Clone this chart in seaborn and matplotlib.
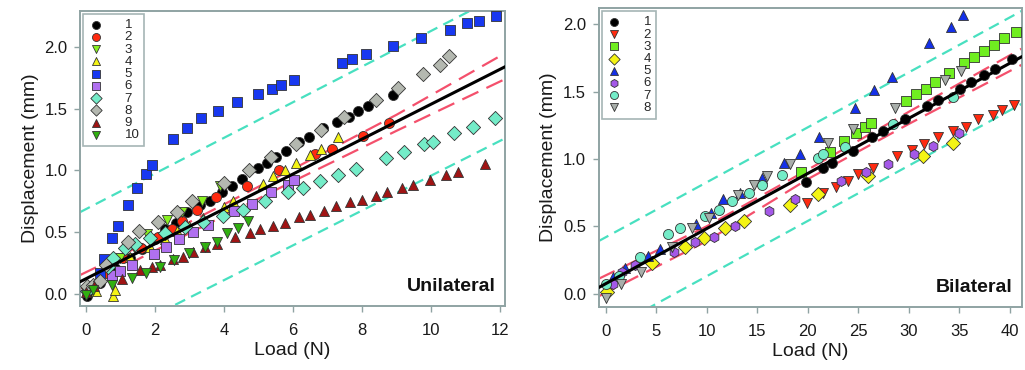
import numpy as np
import pandas as pd
import matplotlib
matplotlib.use("Agg")
import matplotlib.pyplot as plt
import seaborn as sns

# ---- Unilateral (left panel) data ----
uni_x = {
    "1": [0.03, 0.41, 0.84, 1.28, 1.62, 1.99, 2.29, 2.61, 2.93, 3.30, 3.59, 3.94, 4.23, 4.52, 4.99, 5.25,
          5.51, 5.80, 6.17, 6.46, 6.87, 7.28, 7.62, 7.88, 8.17, 8.90],
    "2": [0.2, 0.6, 1.07, 1.6, 2.09, 2.5, 2.78, 3.22, 3.77, 4.67, 5.59, 6.64, 7.13, 8.03, 8.78],
    "3": [0.0, 0.3, 0.78, 0.99, 1.4, 1.77, 2.35, 2.8, 3.36, 3.88],
    "4": [0.3, 0.78, 0.85, 1.28, 1.86, 2.3, 2.64, 3.0, 3.39, 4.0, 4.26, 5.13, 5.42, 5.77, 6.09, 6.49, 6.81, 7.3],
    "5": [0.41, 0.52, 0.75, 0.93, 1.22, 1.48, 1.74, 1.91, 2.52, 2.93, 3.33, 3.83, 4.38, 4.99, 5.39, 5.65,
          6.03, 7.42, 7.71, 8.12, 8.90, 9.71, 10.55, 11.04, 11.39, 11.88],
    "6": [0.75, 0.99, 1.33, 1.97, 2.32, 2.7, 3.1, 3.54, 4.29, 4.81, 5.36, 5.86, 6.03],
    "7": [0.03, 0.64, 0.78, 1.13, 1.42, 1.86, 2.3, 2.87, 3.39, 3.97, 4.55, 5.19, 5.86, 6.29, 6.78, 7.3,
          7.83, 8.70, 9.22, 9.80, 10.06, 10.67, 11.22, 11.86],
    "8": [0.03, 0.2, 0.41, 0.58, 1.22, 1.54, 2.09, 2.64, 3.07, 4.0, 4.72, 5.36, 6.09, 6.81, 7.48, 8.41,
          9.04, 9.77, 10.26, 10.52],
    "9": [0.0, 0.23, 1.04, 1.57, 1.91, 2.14, 2.52, 2.81, 3.10, 3.45, 3.80, 4.32, 4.75, 5.04, 5.42, 5.77,
          6.17, 6.49, 6.90, 7.25, 7.65, 8.00, 8.41, 8.72, 9.16, 9.48, 9.97, 10.43, 10.78, 11.57],
    "10": [0.0, 0.2, 0.75, 1.35, 1.75, 2.15, 2.55, 3.0, 3.45, 3.8, 4.1, 4.4, 4.7],
}
uni_y = {
    "1": [-0.02, 0.09, 0.21, 0.29, 0.36, 0.44, 0.52, 0.57, 0.66, 0.72, 0.75, 0.82, 0.87, 0.93, 1.02, 1.06,
          1.11, 1.16, 1.23, 1.27, 1.34, 1.39, 1.43, 1.48, 1.52, 1.61],
    "2": [0.05, 0.17, 0.29, 0.37, 0.46, 0.52, 0.59, 0.68, 0.78, 0.87, 1.00, 1.13, 1.17, 1.28, 1.38],
    "3": [0.01, 0.05, 0.25, 0.29, 0.38, 0.48, 0.60, 0.66, 0.75, 0.87],
    "4": [0.02, -0.02, 0.03, 0.30, 0.38, 0.44, 0.51, 0.55, 0.61, 0.70, 0.75, 0.89, 0.95, 1.0, 1.06, 1.12, 1.17, 1.27],
    "5": [0.17, 0.28, 0.45, 0.55, 0.72, 0.86, 0.97, 1.04, 1.25, 1.34, 1.42, 1.48, 1.55, 1.62, 1.66, 1.69,
          1.73, 1.87, 1.90, 1.94, 2.01, 2.07, 2.14, 2.19, 2.21, 2.25],
    "6": [0.15, 0.18, 0.23, 0.32, 0.38, 0.44, 0.50, 0.56, 0.67, 0.73, 0.82, 0.88, 0.92],
    "7": [0.02, 0.22, 0.29, 0.37, 0.40, 0.45, 0.49, 0.54, 0.58, 0.63, 0.68, 0.75, 0.82, 0.86, 0.91, 0.96,
          1.01, 1.10, 1.15, 1.21, 1.23, 1.30, 1.35, 1.42],
    "8": [0.06, 0.07, 0.10, 0.23, 0.42, 0.51, 0.58, 0.66, 0.75, 0.90, 1.00, 1.11, 1.21, 1.33, 1.43, 1.57,
          1.67, 1.78, 1.85, 1.93],
    "9": [0.01, 0.06, 0.12, 0.19, 0.22, 0.23, 0.28, 0.30, 0.34, 0.38, 0.40, 0.46, 0.49, 0.52, 0.55, 0.57,
          0.62, 0.64, 0.67, 0.71, 0.74, 0.76, 0.79, 0.82, 0.86, 0.88, 0.92, 0.96, 0.99, 1.05],
    "10": [-0.01, 0.03, 0.07, 0.13, 0.17, 0.22, 0.27, 0.33, 0.38, 0.42, 0.49, 0.53, 0.59],
}
uni_markers = {"1": "o", "2": "o", "3": "v", "4": "^", "5": "s", "6": "s", "7": "D", "8": "D", "9": "^", "10": "v"}
uni_colors = {"1": "#000000", "2": "#ff2a10", "3": "#88f020", "4": "#f4f414", "5": "#1838f0",
              "6": "#b070f0", "7": "#74ecc8", "8": "#b4b8b0", "9": "#a01414", "10": "#30b010"}

# fit line, confidence band and prediction band (left)
uni_line_x = [-0.17, 12.15]
uni_fit = [0.096, 1.84]
uni_band_x = [-0.17, 3.0, 6.0, 9.0, 12.15]
uni_ci_upper = [0.15, 0.58, 1.01, 1.45, 1.95]
uni_ci_lower = [0.04, 0.49, 0.91, 1.32, 1.74]
uni_pi_upper = [0.66, 2.44]
uni_pi_lower = [-0.48, 1.26]

# ---- Bilateral (right panel) data ----
bi_x = {
    "1": [19.8, 21.5, 22.4, 24.5, 26.4, 27.4, 29.6, 31.8, 32.9, 35.1, 36.2, 37.4, 38.5, 40.2],
    "2": [19.9, 21.5, 22.8, 24.0, 25.0, 26.5, 28.8, 30.3, 31.5, 32.9, 34.4, 35.7, 36.9, 38.3, 39.2, 40.4],
    "3": [19.3, 22.2, 23.6, 24.8, 25.7, 26.3, 29.7, 30.7, 31.7, 32.6, 34.0, 35.5, 36.5, 37.4, 38.4, 39.4, 40.6],
    "4": [0.1, 4.6, 7.9, 9.7, 11.8, 13.7, 18.2, 21.0, 26.0, 31.4, 34.4],
    "5": [0.7, 1.9, 4.2, 5.4, 8.9, 10.4, 11.6, 13.3, 15.5, 17.7, 19.2, 21.1, 24.7, 26.6, 28.3, 32.0, 34.2, 35.4],
    "6": [0.7, 1.6, 2.9, 6.8, 8.8, 10.7, 12.8, 16.2, 18.7, 23.3, 25.8, 27.9, 30.5, 32.4, 35.0],
    "7": [0.0, 1.3, 3.4, 6.2, 7.4, 9.8, 11.2, 12.5, 14.2, 15.5, 17.5, 21.0, 21.5, 23.7, 28.4, 34.4],
    "8": [0.0, 1.5, 3.5, 6.6, 8.5, 10.2, 13.1, 14.7, 16.0, 18.2, 22.0, 24.5, 28.6, 33.6, 35.2],
}
bi_y = {
    "1": [0.83, 0.93, 0.97, 1.06, 1.16, 1.21, 1.30, 1.39, 1.44, 1.52, 1.57, 1.62, 1.67, 1.74],
    "2": [0.67, 0.75, 0.79, 0.84, 0.89, 0.93, 1.02, 1.07, 1.11, 1.16, 1.21, 1.24, 1.30, 1.33, 1.36, 1.40],
    "3": [0.90, 1.05, 1.13, 1.19, 1.24, 1.27, 1.43, 1.48, 1.52, 1.57, 1.64, 1.71, 1.76, 1.80, 1.85, 1.90, 1.94],
    "4": [0.01, 0.23, 0.35, 0.41, 0.49, 0.54, 0.66, 0.74, 0.87, 1.02, 1.12],
    "5": [0.12, 0.19, 0.28, 0.33, 0.52, 0.60, 0.70, 0.75, 0.86, 0.97, 1.04, 1.16, 1.38, 1.51, 1.61, 1.86, 1.98, 2.07],
    "6": [0.07, 0.16, 0.21, 0.31, 0.38, 0.42, 0.50, 0.61, 0.70, 0.84, 0.90, 0.96, 1.04, 1.10, 1.19],
    "7": [0.07, 0.13, 0.27, 0.44, 0.49, 0.58, 0.62, 0.69, 0.75, 0.81, 0.88, 1.01, 1.04, 1.09, 1.26, 1.46],
    "8": [-0.03, 0.07, 0.16, 0.35, 0.49, 0.56, 0.73, 0.81, 0.87, 0.96, 1.12, 1.22, 1.38, 1.59, 1.65],
}
bi_markers = {"1": "o", "2": "v", "3": "s", "4": "D", "5": "^", "6": "h", "7": "o", "8": "v"}
bi_colors = {"1": "#000000", "2": "#ff2a10", "3": "#70ee20", "4": "#f4f414", "5": "#1430e8",
             "6": "#a458e8", "7": "#74ecc8", "8": "#a8aeaa"}

bi_line_x = [-0.7, 41.2]
bi_fit = [0.045, 1.76]
bi_band_x = [-0.7, 10.0, 20.0, 30.0, 41.2]
bi_ci_upper = [0.11, 0.50, 0.92, 1.35, 1.82]
bi_ci_lower = [-0.02, 0.39, 0.85, 1.26, 1.70]
bi_pi_upper = [0.39, 2.10]
bi_pi_lower = [-0.31, 1.41]

sns.set_theme(style="white")
plt.rcParams["font.family"] = ["Liberation Sans", "DejaVu Sans"]

fig = plt.figure(figsize=(10.25, 3.7), dpi=100)
ax1 = fig.add_axes([0.078, 0.173, 0.415, 0.797])
ax2 = fig.add_axes([0.584, 0.170, 0.413, 0.808])

frame_col = "#8fa3a3"


def draw_panel(ax, xs, ys, markers, colors, line_x, fit, band_x, ci_up, ci_lo, pi_up, pi_lo, label):
    sns.lineplot(x=line_x, y=pi_up, ax=ax, color="#48e0c0", lw=1.6, dashes=(5, 3), zorder=2)
    sns.lineplot(x=line_x, y=pi_lo, ax=ax, color="#48e0c0", lw=1.6, dashes=(5, 3), zorder=2)
    sns.lineplot(x=band_x, y=ci_up, ax=ax, color="#f4506c", lw=1.6, dashes=(8, 4), zorder=2)
    sns.lineplot(x=band_x, y=ci_lo, ax=ax, color="#f4506c", lw=1.6, dashes=(8, 4), zorder=2)
    for key in xs:
        sns.scatterplot(x=xs[key], y=ys[key], ax=ax, marker=markers[key], color=colors[key],
                        edgecolor="#333333", linewidth=0.6, s=52, label=key, zorder=3)
    sns.lineplot(x=line_x, y=fit, ax=ax, color="black", lw=2.2, zorder=4)
    for sp in ax.spines.values():
        sp.set_color(frame_col)
        sp.set_linewidth(1.4)
    ax.tick_params(axis="both", which="both", direction="out", length=4, width=1.0, pad=5,
                   color=frame_col, labelsize=12, labelcolor="#1a1a1a", bottom=True, left=True)
    ax.tick_params(axis="x", pad=8)
    ax.set_xlabel("Load (N)", fontsize=14, color="#1a1a1a", labelpad=3)
    ax.set_ylabel("Displacement (mm)", fontsize=14, color="#1a1a1a", labelpad=4)
    ax.text(0.978, 0.065, label, transform=ax.transAxes, ha="right", va="center",
            fontsize=14, fontweight="bold", color="#111111")
    leg = ax.legend(loc="upper left", fontsize=9.5, frameon=True, fancybox=False,
                    labelspacing=0.0, handletextpad=1.6, borderpad=0.35, handlelength=1.2,
                    borderaxespad=0.25, markerscale=0.8)
    leg.get_frame().set_edgecolor(frame_col)
    leg.get_frame().set_linewidth(1.2)


draw_panel(ax1, uni_x, uni_y, uni_markers, uni_colors, uni_line_x, uni_fit,
           uni_band_x, uni_ci_upper, uni_ci_lower, uni_pi_upper, uni_pi_lower, "Unilateral")
ax1.set_xlim(-0.17, 12.15)
ax1.set_ylim(-0.1, 2.29)
ax1.set_xticks([0, 2, 4, 6, 8, 10, 12])
ax1.set_yticks([0.0, 0.5, 1.0, 1.5, 2.0])
ax1.set_yticklabels(["0.0", "0.5", "1.0", "1.5", "2.0"])

draw_panel(ax2, bi_x, bi_y, bi_markers, bi_colors, bi_line_x, bi_fit,
           bi_band_x, bi_ci_upper, bi_ci_lower, bi_pi_upper, bi_pi_lower, "Bilateral")
ax2.set_xlim(-0.7, 41.2)
ax2.set_ylim(-0.1, 2.12)
ax2.set_xticks([0, 5, 10, 15, 20, 25, 30, 35, 40])
ax2.set_yticks([0.0, 0.5, 1.0, 1.5, 2.0])
ax2.set_yticklabels(["0.0", "0.5", "1.0", "1.5", "2.0"])

fig.savefig("out.png", dpi=100, facecolor="white")
